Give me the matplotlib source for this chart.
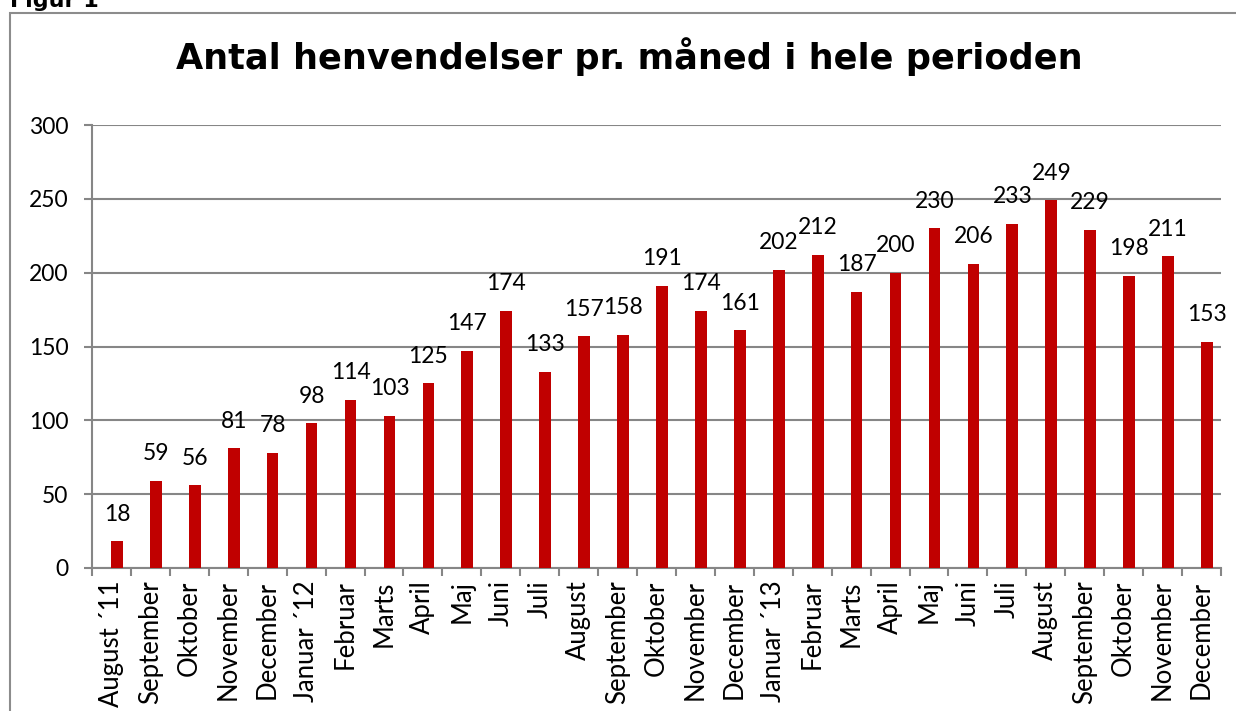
import matplotlib.pyplot as plt
from matplotlib.patches import Rectangle
import numpy as np

# Data
months = ["August \u00b411", "September", "Oktober", "November", "December",
          "Januar \u00b412", "Februar", "Marts", "April", "Maj", "Juni", "Juli",
          "August", "September", "Oktober", "November", "December",
          "Januar \u00b413", "Februar", "Marts", "April", "Maj", "Juni", "Juli",
          "August", "September", "Oktober", "November", "December"]
values = [18, 59, 56, 81, 78, 98, 114, 103, 125, 147, 174, 133, 157, 158,
          191, 174, 161, 202, 212, 187, 200, 230, 206, 233, 249, 229, 198,
          211, 153]

title = "Antal henvendelser pr. m\u00e5ned i hele perioden"
yticks = [0, 50, 100, 150, 200, 250, 300]

plt.rcParams['font.family'] = ['Lato', 'DejaVu Sans']

W, H = 1236, 711
fig = plt.figure(figsize=(W / 100, H / 100), dpi=100)
fig.patch.set_facecolor('white')

# outer frame (runs off the right and bottom edges)
frame = Rectangle((10 / W, -0.05), 1.2, 1 - 13 / H + 0.05,
                  transform=fig.transFigure, fill=False,
                  edgecolor='#8c8c8c', linewidth=1.5, clip_on=False)
fig.patches.append(frame)

fig.text(10 / W, 1 - 7 / H, "Figur 1", fontsize=16, fontweight='bold',
         family='DejaVu Sans', ha='left', va='baseline')

fig.text(629 / W, 1 - 69 / H, title, fontsize=25.3, fontweight='bold',
         family='DejaVu Sans', ha='center', va='baseline')

ax = fig.add_axes([92 / W, (H - 568) / H, 1129 / W, 443 / H])
x = np.arange(len(values))
shift = 0.14  # bars sit a little right of the category centre
ax.bar(x + shift, values, width=0.30, color='#C00000', zorder=3)

for xi, v in zip(x, values):
    ax.annotate(str(v), (xi + shift, v), xytext=(0, 19.5),
                textcoords='offset points', ha='center', va='center',
                fontsize=16.5, zorder=4)

ax.set_xlim(-0.5, len(values) - 0.5)
ax.set_ylim(0, 300)
ax.set_yticks(yticks)
ax.tick_params(axis='y', length=6, width=1.5, color='#868686', pad=11,
               labelsize=16.5)
ax.grid(axis='y', color='#868686', linewidth=1.5, zorder=0)

ax.set_xticks(x)
ax.set_xticklabels(months, rotation=90, va='top', ha='center')
ax.tick_params(axis='x', which='major', length=0, pad=9, labelsize=18.5)
ax.set_xticks(np.arange(-0.5, len(values)), minor=True)
ax.tick_params(axis='x', which='minor', length=6, width=1.5, color='#868686')

for s in ['top', 'right']:
    ax.spines[s].set_visible(False)
for s in ['left', 'bottom']:
    ax.spines[s].set_color('#868686')
    ax.spines[s].set_linewidth(1.5)

fig.savefig('out.png', dpi=100)
